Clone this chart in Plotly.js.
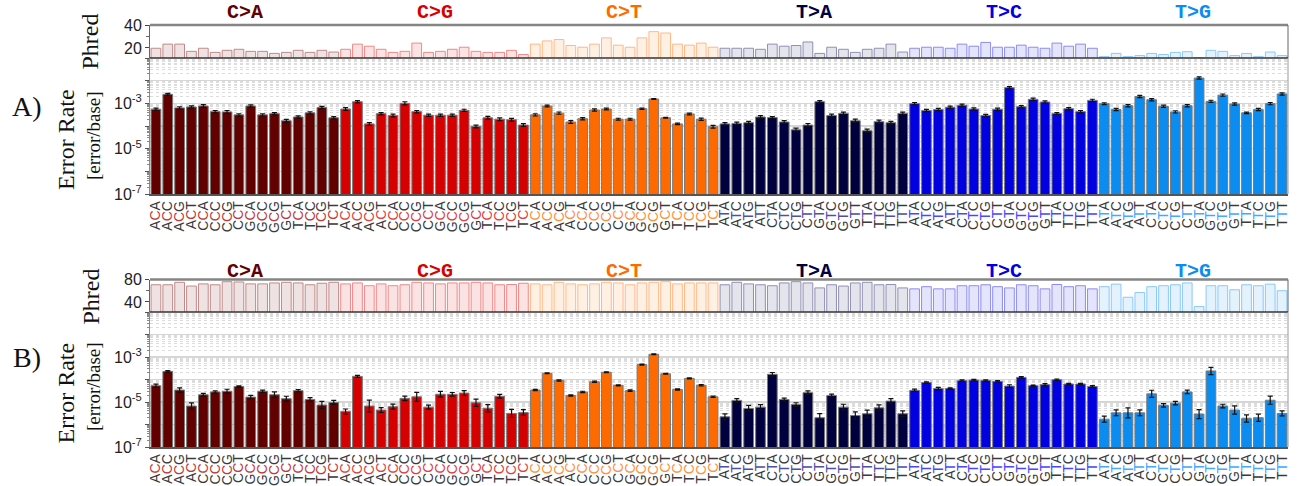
<!DOCTYPE html>
<html><head><meta charset="utf-8">
<script src="https://cdn.plot.ly/plotly-3.0.1.min.js"></script>
<style>html,body{margin:0;padding:0;background:#fff}</style>
</head><body><div id="chart" style="width:1299px;height:486px"></div>
<script>
// ---- categories ----
const TYPES = ['C>A','C>G','C>T','T>A','T>C','T>G'];
const REF_BASE = ['C','C','C','T','T','T'];
const FLANK_5 = ['A','A','A','A','C','C','C','C','G','G','G','G','T','T','T','T'];
const FLANK_3 = ['A','C','G','T','A','C','G','T','A','C','G','T','A','C','G','T'];

// ---- Panel A: Phred ----
const phredA_CA = [19.7,23.3,23.3,17.0,19.7,16.1,17.9,18.8,17.0,17.0,15.2,16.1,17.9,16.1,17.9,16.4];
const phredA_CG = [18.8,23.3,21.5,18.8,16.1,17.0,24.2,16.1,17.0,18.8,20.6,17.0,16.1,16.1,17.9,14.2];
const phredA_CT = [23.3,26.1,27.3,22.1,20.6,23.3,28.8,22.4,20.6,28.8,34.2,33.0,23.3,22.4,24.2,20.6];
const phredA_TA = [19.7,19.7,19.7,18.8,23.3,21.5,22.1,25.2,15.2,20.6,18.8,16.1,18.8,19.7,23.3,16.4];
const phredA_TC = [19.7,20.6,20.6,19.7,23.3,21.5,24.8,20.6,20.6,22.4,20.6,19.7,24.2,21.5,23.3,19.7];
const phredA_TG = [12.4,15.2,12.4,13.3,15.2,14.2,16.1,16.7,11.5,17.9,17.0,13.3,15.2,12.4,16.4,13.3];

// ---- Panel A: error rate ----
const rateA_CA = [5.5e-4,2.5e-3,6.3e-4,6.9e-4,7.6e-4,4.3e-4,4.2e-4,3.1e-4,7.6e-4,3.1e-4,3.5e-4,1.7e-4,2.5e-4,3.8e-4,6.5e-4,2.3e-4];
const rateA_CG = [5.6e-4,1.18e-3,1.24e-4,3.5e-4,2.9e-4,1.0e-3,4.3e-4,3.0e-4,3.0e-4,3.0e-4,4.9e-4,9.5e-5,2.3e-4,2.0e-4,1.9e-4,1.1e-4];
const rateA_CT = [3.1e-4,7.6e-4,3.7e-4,1.5e-4,2.1e-4,5.1e-4,5.6e-4,2.0e-4,2.0e-4,5.8e-4,1.55e-3,2.3e-4,1.24e-4,3.4e-4,2.0e-4,9.2e-5];
const rateA_TA = [1.24e-4,1.3e-4,1.4e-4,2.5e-4,2.35e-4,1.5e-4,6.8e-5,1.1e-4,1.18e-3,2.9e-4,3.6e-4,1.7e-4,6.2e-5,1.55e-4,1.4e-4,3.6e-4];
const rateA_TC = [9.7e-4,4.8e-4,5.3e-4,6.7e-4,8.2e-4,5.6e-4,2.9e-4,5.5e-4,4.9e-3,7.1e-4,1.5e-3,1.14e-3,3.6e-4,5.8e-4,4.3e-4,1.35e-3];
const rateA_TG = [9.7e-4,5.3e-4,7.9e-4,2.0e-3,1.45e-3,7.4e-4,4.2e-4,7.9e-4,1.3e-2,1.22e-3,2.3e-3,9.3e-4,3.8e-4,5.3e-4,9.7e-4,2.6e-3];
// error-bar half height in decades (log10 units)
const errA_CA = [0.05,0.04,0.05,0.05,0.06,0.05,0.06,0.05,0.05,0.05,0.05,0.06,0.05,0.05,0.05,0.05];
const errA_CG = [0.06,0.05,0.06,0.05,0.06,0.07,0.05,0.05,0.05,0.05,0.05,0.06,0.06,0.06,0.06,0.06];
const errA_CT = [0.05,0.04,0.05,0.06,0.05,0.05,0.04,0.04,0.04,0.03,0.02,0.02,0.03,0.04,0.05,0.06];
const errA_TA = [0.06,0.06,0.06,0.06,0.04,0.06,0.07,0.07,0.05,0.06,0.06,0.07,0.07,0.07,0.06,0.06];
const errA_TC = [0.05,0.05,0.05,0.05,0.05,0.05,0.05,0.05,0.05,0.05,0.05,0.05,0.04,0.05,0.05,0.05];
const errA_TG = [0.04,0.05,0.05,0.05,0.05,0.05,0.05,0.05,0.05,0.05,0.05,0.05,0.03,0.05,0.05,0.05];

// ---- Panel B: Phred ----
const phredB_CA = [70.6,70.6,75.0,68.3,72.2,70.6,76.1,75.6,72.2,72.2,73.9,75.0,73.9,70.6,73.3,75.0];
const phredB_CG = [72.2,73.9,68.9,72.2,68.9,70.6,75.0,73.9,72.2,73.9,73.9,75.0,73.9,70.6,71.1,73.3];
const phredB_CT = [72.2,70.6,75.0,72.2,70.6,72.2,75.0,73.9,70.6,73.9,75.0,76.1,72.2,73.9,73.9,73.9];
const phredB_TA = [70.6,75.0,72.2,70.6,68.9,73.9,76.1,73.9,65.0,70.6,68.3,73.9,75.0,70.6,71.1,65.0];
const phredB_TC = [63.3,67.2,63.3,63.3,68.9,68.9,70.6,67.2,65.0,70.6,68.9,63.3,71.1,67.2,68.9,63.3];
const phredB_TG = [67.2,71.7,48.3,56.7,67.2,68.9,70.6,73.9,31.7,68.9,68.9,61.7,70.6,68.9,71.7,60.0];

// ---- Panel B: error rate ----
const rateB_CA = [5.3e-5,2.3e-4,3.4e-5,6.6e-6,2.1e-5,2.8e-5,3.0e-5,4.9e-5,1.65e-5,3.0e-5,2.1e-5,1.4e-5,3.2e-5,1.3e-5,7.3e-6,9.5e-6];
const rateB_CG = [3.8e-6,1.38e-4,6.6e-6,4.4e-6,6.2e-6,1.45e-5,1.7e-5,5.9e-6,2.2e-5,2.2e-5,2.5e-5,9.2e-6,5.3e-6,1.8e-5,3.1e-6,3.4e-6];
const rateB_CT = [3.4e-5,1.9e-4,9.1e-5,1.95e-5,2.8e-5,7.9e-5,2.1e-4,5.5e-5,3.2e-5,4.6e-4,1.32e-3,1.8e-4,3.6e-5,1.12e-4,5.5e-5,1.7e-5];
const rateB_TA = [2.2e-6,1.18e-5,5.2e-6,5.9e-6,1.7e-4,1.3e-5,7.7e-6,2.6e-5,2.0e-6,1.95e-5,5.9e-6,2.5e-6,3.0e-6,5.5e-6,1.1e-5,3.0e-6];
const rateB_TC = [3.3e-5,7.4e-5,4.0e-5,4.0e-5,8.9e-5,9.4e-5,9.1e-5,8.3e-5,5.1e-5,1.24e-4,5.3e-5,5.9e-5,9.8e-5,6.3e-5,6.3e-5,4.9e-5];
const rateB_TG = [1.73e-6,3.3e-6,3.3e-6,3.3e-6,2.3e-5,7.1e-6,8.9e-6,2.8e-5,2.9e-6,2.4e-4,6.6e-6,4.4e-6,1.86e-6,2.0e-6,1.2e-5,3.1e-6];
const errB_CA = [0.07,0.03,0.10,0.14,0.06,0.05,0.09,0.03,0.08,0.05,0.13,0.11,0.05,0.08,0.16,0.09];
const errB_CG = [0.11,0.04,0.26,0.11,0.11,0.10,0.20,0.09,0.13,0.08,0.11,0.16,0.16,0.08,0.18,0.13];
const errB_CT = [0.03,0.02,0.03,0.03,0.03,0.03,0.02,0.02,0.03,0.02,0.02,0.02,0.03,0.02,0.03,0.03];
const errB_TA = [0.13,0.08,0.13,0.11,0.08,0.06,0.08,0.08,0.18,0.06,0.13,0.16,0.16,0.13,0.11,0.13];
const errB_TC = [0.05,0.03,0.05,0.03,0.03,0.03,0.03,0.03,0.06,0.03,0.03,0.05,0.03,0.03,0.03,0.04];
const errB_TG = [0.13,0.13,0.22,0.13,0.16,0.08,0.08,0.08,0.20,0.16,0.08,0.18,0.16,0.16,0.18,0.11];

// ---- y tick labels ----
const RATE_TICKS = [1e-7, 1e-5, 1e-3];
const RATE_TICK_TEXT = ['10<sup>-7</sup>', '10<sup>-5</sup>', '10<sup>-3</sup>'];
const DECADES = [1e-7, 1e-6, 1e-5, 1e-4, 1e-3, 1e-2, 1e-1];

// ---- styles ----
const BAR_COLORS   = ['#620000','#d60000','#ff6a00','#00003f','#0000e0','#0a8cf0'];
const PHRED_FILL   = ['#efe2e2','#fce3e3','#fff0e4','#e4e4ec','#e4e4fc','#e4f2fd'];
const PHRED_LINE   = ['#c08a8a','#ef8888','#ffb888','#9090b4','#8c8cf0','#8cc8f8'];
const MID_COLORS   = ['#c03a3a','#e04040','#ff9040','#5050a0','#4848ff','#48a8ff'];

const phredA = [phredA_CA,phredA_CG,phredA_CT,phredA_TA,phredA_TC,phredA_TG];
const rateA  = [rateA_CA,rateA_CG,rateA_CT,rateA_TA,rateA_TC,rateA_TG];
const errA   = [errA_CA,errA_CG,errA_CT,errA_TA,errA_TC,errA_TG];
const phredB = [phredB_CA,phredB_CG,phredB_CT,phredB_TA,phredB_TC,phredB_TG];
const rateB  = [rateB_CA,rateB_CG,rateB_CT,rateB_TA,rateB_TC,rateB_TG];
const errB   = [errB_CA,errB_CG,errB_CT,errB_TA,errB_TC,errB_TG];

const tickvals = [], ticktext = [];
TYPES.forEach((t, g) => {
  FLANK_5.forEach((f5, k) => {
    tickvals.push(g * 16 + k);
    ticktext.push(f5 + '<span style="color:' + MID_COLORS[g] + '">' + REF_BASE[g] + '</span>' + FLANK_3[k]);
  });
});

const traces = [];
function addPanel(phred, rate, err, xa, yp, ye) {
  TYPES.forEach((t, g) => {
    const xs = FLANK_5.map((_, k) => g * 16 + k);
    traces.push({
      type: 'bar', x: xs, y: phred[g], xaxis: xa, yaxis: yp,
      marker: {color: PHRED_FILL[g], line: {color: PHRED_LINE[g], width: 1}},
      hoverinfo: 'skip', showlegend: false
    });
    const up = rate[g].map((v, k) => v * (Math.pow(10, err[g][k]) - 1));
    const dn = rate[g].map((v, k) => v * (1 - Math.pow(10, -err[g][k])));
    traces.push({
      type: 'bar', x: xs, y: rate[g], xaxis: xa, yaxis: ye,
      marker: {color: BAR_COLORS[g], line: {color: '#7a7a7a', width: 1}},
      error_y: {type: 'data', symmetric: false, array: up, arrayminus: dn,
                color: '#111', thickness: 1.2, width: 2.5},
      hoverinfo: 'skip', showlegend: false
    });
  });
}
addPanel(phredA, rateA, errA, 'x', 'y', 'y2');
addPanel(phredB, rateB, errB, 'x2', 'y3', 'y4');

const tickFont = {family: 'Liberation Sans, Arial, sans-serif', size: 16, color: '#222'};

function xAxis(anchor) {
  return {anchor: anchor, domain: [0, 1], range: [-0.5, 95.5],
    tickmode: 'array', tickvals: tickvals, ticktext: ticktext, tickangle: -90,
    tickfont: {family: 'Liberation Sans, Arial, sans-serif', size: 14, color: '#3a3a3a'},
    ticks: '', showgrid: false, zeroline: false,
    showline: true, linecolor: '#555', linewidth: 1.5};
}
function phredAxis(dom, rng, dt, mdt) {
  return {domain: dom, range: rng, dtick: dt, tick0: 0,
    ticks: 'outside', ticklen: 4, tickcolor: '#444', tickfont: tickFont,
    minor: {dtick: mdt, ticks: 'outside', ticklen: 3, tickcolor: '#666'},
    showgrid: false, zeroline: false, showline: true, linecolor: '#666', linewidth: 1};
}
function errAxis(dom) {
  return {domain: dom, type: 'log', range: [-7, -1],
    tickmode: 'array', tickvals: RATE_TICKS, ticktext: RATE_TICK_TEXT, tickfont: tickFont,
    ticks: 'outside', ticklen: 4, tickcolor: '#555',
    showgrid: true, gridcolor: '#d6d6d6', gridwidth: 1.5,
    minor: {dtick: 'D1', showgrid: true, gridcolor: '#dcdcdc', griddash: 'dot', gridwidth: 1,
            ticks: 'outside', ticklen: 2, tickcolor: '#888'},
    zeroline: false, showline: true, linecolor: '#888', linewidth: 1};
}
// overlay axis that only draws a solid grid line at every decade
function decadeAxis(over) {
  return {overlaying: over, type: 'log', range: [-7, -1],
    tickmode: 'array', tickvals: DECADES, showticklabels: false,
    ticks: 'outside', ticklen: 4, tickcolor: '#555',
    showgrid: true, gridcolor: '#d6d6d6', gridwidth: 1.5,
    zeroline: false, showline: false};
}

const layout = {
  width: 1299, height: 486,
  margin: {l: 150, r: 11, t: 25, b: 39},
  paper_bgcolor: '#fff', plot_bgcolor: '#fff',
  barmode: 'overlay', bargap: 0.18,
  font: {family: 'Liberation Sans, Arial, sans-serif'},
  xaxis: xAxis('y2'),
  xaxis2: xAxis('y4'),
  yaxis: Object.assign(phredAxis([0.9218, 1], [11.2, 40], 20, 10), {anchor: 'x'}),
  yaxis2: Object.assign(errAxis([0.5995, 0.9218]), {anchor: 'x'}),
  yaxis3: Object.assign(phredAxis([0.3199, 0.3969], [22, 80], 40, 20), {anchor: 'x2'}),
  yaxis4: Object.assign(errAxis([0, 0.3199]), {anchor: 'x2'}),
  yaxis5: Object.assign(decadeAxis('y2'), {anchor: 'x'}),
  yaxis6: Object.assign(decadeAxis('y4'), {anchor: 'x2'}),
  shapes: [],
  annotations: []
};
// invisible carriers so the overlay decade axes are drawn
traces.push({type: 'scatter', x: [], y: [], xaxis: 'x', yaxis: 'y5', showlegend: false, hoverinfo: 'skip'});
traces.push({type: 'scatter', x: [], y: [], xaxis: 'x2', yaxis: 'y6', showlegend: false, hoverinfo: 'skip'});

// frames
[['x','y'],['x2','y3']].forEach(([xa, ya]) => {
  layout.shapes.push({type: 'line', xref: xa + ' domain', yref: ya + ' domain', x0: 0, x1: 1, y0: 1, y1: 1, line: {color: '#858585', width: 2.5}});
  layout.shapes.push({type: 'line', xref: xa + ' domain', yref: ya + ' domain', x0: 1, x1: 1, y0: 0, y1: 1, line: {color: '#666', width: 1}});
  layout.shapes.push({type: 'line', xref: xa + ' domain', yref: ya + ' domain', x0: 0, x1: 1, y0: 0, y1: 0, line: {color: '#333', width: 1.5}});
});
[['x','y2'],['x2','y4']].forEach(([xa, ya]) => {
  layout.shapes.push({type: 'line', xref: xa + ' domain', yref: ya + ' domain', x0: 1, x1: 1, y0: 0, y1: 1, line: {color: '#999', width: 1}});
});

// type labels
const typeY = [1.03, 0.4154];
['x', 'x2'].forEach((xa, p) => {
  TYPES.forEach((t, g) => {
    layout.annotations.push({text: '<b>' + t.replace('>', '&gt;') + '</b>', xref: xa, yref: 'paper',
      x: g * 16 + 7.5, y: typeY[p], xanchor: 'center', yanchor: 'middle', showarrow: false,
      font: {family: 'Liberation Mono, Courier New, monospace', size: 20, color: BAR_COLORS[g]}});
  });
});

const serif = 'Liberation Serif, Times New Roman, serif';
function label(text, x, y, size, angle) {
  layout.annotations.push({text: text, xref: 'paper', yref: 'paper', x: x, y: y,
    xanchor: 'center', yanchor: 'middle', showarrow: false, textangle: angle,
    font: {family: serif, size: size, color: '#111'}});
}
label('A)', -0.108, 0.808, 28, 0);
label('B)', -0.108, 0.211, 28, 0);
label('Phred', -0.0527, 0.961, 24, -90);
label('Phred', -0.0527, 0.3566, 24, -90);
label('Error Rate', -0.0738, 0.7275, 24, -90);
label('Error Rate', -0.0738, 0.1268, 24, -90);
label('[error/base]', -0.0501, 0.7393, 19, -90);
label('[error/base]', -0.0501, 0.1445, 19, -90);

Plotly.newPlot('chart', traces, layout, {staticPlot: true, displayModeBar: false});
</script>
</body></html>
